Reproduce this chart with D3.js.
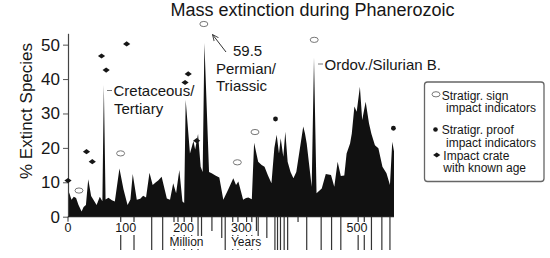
<!DOCTYPE html>
<html>
<head>
<meta charset="utf-8">
<script src="https://cdn.jsdelivr.net/npm/d3@7"></script>
<style>
  html, body { margin: 0; padding: 0; background: #fff; }
  svg { display: block; font-family: "Liberation Sans", Arial, sans-serif; }
</style>
</head>
<body>
<svg id="chart" width="550" height="258"></svg>
<script>
// ---------- data (ages in million years before present, % extinct species) ----------
const ages = [0, 3, 6, 10, 14, 18, 23.5, 27, 31, 35, 40, 44, 49.5, 55, 59.5, 62, 65, 70, 76, 81,
  89, 96, 103, 108, 112, 119, 125, 130, 135, 141, 146.5, 152, 156, 162, 171, 176.5, 182, 187, 192.6, 198,
  201, 203.6, 211, 217, 220, 225, 229.5, 233, 236, 244, 248.6, 255, 261.8, 268.7, 277, 286, 290.7, 294.7, 303, 308,
  312, 318, 322, 329, 335, 340, 346, 352, 357, 361, 365, 368, 372.5, 376, 380, 385, 390, 395, 407, 410,
  413, 421.6, 425.6, 430, 439, 446, 455, 460.7, 466.5, 472, 478, 482, 488, 491, 495.5, 499.5, 505, 509, 515, 520.8,
  525, 531, 537, 544, 551, 557, 561, 564];
const extinctPct = [7.8, 6.5, 4.9, 5.8, 5.4, 3.5, 1.5, 2.8, 3.4, 10.9, 6, 4.9, 3.4, 5.8, 4.5, 38.3, 5, 5.5, 4.8, 4.4,
  14, 8, 3.4, 5, 12.4, 4.9, 5.2, 6.1, 5.6, 12.8, 9.2, 10, 10.5, 11.6, 5.3, 4.9, 9.7, 6.8, 13.6, 4.4,
  4, 33.9, 18.4, 22, 19.5, 24, 14.5, 13, 50.5, 13, 12.6, 12, 11.4, 4.9, 7.8, 11.2, 9.2, 10.2, 4.9, 5.4,
  5.6, 5.1, 21.5, 16, 15, 14.5, 12, 9.7, 20, 23.8, 18.4, 22.8, 17.4, 24.7, 16, 13, 11.2, 13, 26.2, 24.2,
  21.3, 8.7, 46.3, 6.8, 8.2, 12.4, 12.1, 8.7, 16, 11.8, 12, 18.4, 21.3, 24.2, 32, 30.5, 37.8, 28.1, 33.4, 27.1,
  24, 20.8, 19.9, 14.5, 12.6, 9.2, 21.8, 19];

// stratigraphic sign of impact indicators (open ellipses)
const signAges = [19, 91, 235, 293, 323.5, 426];
const signPct  = [7.6, 18.4, 56, 15.8, 24.6, 51.4];
// stratigraphic proof of impact indicators (dots)
const proofAges = [359, 563];
const proofPct  = [28.4, 25.7];
// impact craters with known age (diamonds)
const craterAges = [0, 32, 42, 58, 66, 101.5, 202.5, 208, 222.6];
const craterPct  = [10.5, 18.9, 16, 46.7, 42.6, 50.2, 39, 41.5, 22.1];

// time boundary marks below the axis and their length class
const boundaryAges = [91.2, 114.2, 144.8, 163.8, 183.4, 190.3, 201, 214, 225, 231, 249, 266, 272, 285, 294, 309, 318,
  326, 329, 344, 358, 362.5, 367.6, 374, 380, 398, 413, 438, 456, 472, 502, 512.6, 525, 543, 557];
const boundaryClass = ["L","L","L","L","L","S","L","L","L","M","S","M","L","L","L","L","L",
  "S","L","M","L","L","L","L","L","XS","L","L","L","L","L","L","L","L","L"];

const yTicks = [0, 10, 20, 30, 40, 50];
const xTickLabels = [0, 100, 200, 300, 500];

const title = "Mass extinction during Phanerozoic";
const yTitle = "% Extinct Species";

// ---------- drawing ----------
const svg = d3.select("#chart");
const ink = "#161616";

const x = d3.scaleLinear().domain([0, 500]).range([68, 357]);
const y = d3.scaleLinear().domain([0, 53.3]).range([216.7, 33.3]);

const series = ages.map((a, i) => ({ age: a, v: extinctPct[i] }));

// boundary lines (drawn first, labels mask them)
const lenMap = { L: 250, M: 238, S: 231, XS: 222 };
svg.append("g").selectAll("line")
  .data(boundaryAges.map((a, i) => ({ a, c: boundaryClass[i] })))
  .join("line")
  .attr("x1", d => x(d.a)).attr("x2", d => x(d.a))
  .attr("y1", y(0)).attr("y2", d => lenMap[d.c])
  .attr("stroke", "#333").attr("stroke-width", 1.2);

// area
const area = d3.area()
  .x(d => x(d.age))
  .y0(y(0))
  .y1(d => y(d.v));
svg.append("path").datum(series)
  .attr("d", area)
  .attr("fill", "#111");

// y axis
const yAxis = svg.append("g")
  .attr("transform", `translate(${x(0)},0)`)
  .call(d3.axisLeft(y).tickValues(yTicks).tickSize(5).tickSizeOuter(0).tickPadding(3));
yAxis.selectAll("path").attr("stroke", "#444").attr("stroke-width", 1.2);
yAxis.selectAll("line").attr("stroke", "#555");
yAxis.selectAll("text").attr("font-size", 17).attr("fill", ink)
  .attr("font-family", "Liberation Sans, Arial, sans-serif");

// x axis baseline
svg.append("line").attr("x1", x(0)).attr("x2", x(564))
  .attr("y1", y(0)).attr("y2", y(0)).attr("stroke", "#222").attr("stroke-width", 1.2);
svg.append("line").attr("x1", x(0)).attr("x2", x(0))
  .attr("y1", y(0)).attr("y2", y(0) + 5).attr("stroke", "#333");

// x tick labels with white backgrounds (mask the boundary lines)
function maskedLabel(txt, cx, baseline, size) {
  const g = svg.append("g");
  const t = g.append("text").attr("x", cx).attr("y", baseline)
    .attr("text-anchor", "middle").attr("font-size", size).attr("fill", ink).text(txt);
  const bb = t.node().getBBox();
  g.insert("rect", "text").attr("x", bb.x - 1).attr("y", bb.y + 1)
    .attr("width", bb.width + 2).attr("height", bb.height - 1).attr("fill", "#fff");
}
xTickLabels.forEach(v => maskedLabel(String(v), x(v), 232, 12.5));
maskedLabel("Million", x(205), 246, 12);
maskedLabel("Years", x(308), 246, 12);

// markers
svg.append("g").selectAll("ellipse")
  .data(signAges.map((a, i) => ({ a, v: signPct[i] })))
  .join("ellipse")
  .attr("cx", d => x(d.a)).attr("cy", d => y(d.v))
  .attr("rx", 4).attr("ry", 2.6)
  .attr("fill", "#fff").attr("stroke", "#777").attr("stroke-width", 1);

svg.append("g").selectAll("circle")
  .data(proofAges.map((a, i) => ({ a, v: proofPct[i] })))
  .join("circle")
  .attr("cx", d => x(d.a)).attr("cy", d => y(d.v)).attr("r", 2.4).attr("fill", ink);

const diamond = (cx, cy) => `M${cx - 3.6},${cy}L${cx},${cy - 2.6}L${cx + 3.6},${cy}L${cx},${cy + 2.6}Z`;
svg.append("g").selectAll("path")
  .data(craterAges.map((a, i) => ({ a, v: craterPct[i] })))
  .join("path")
  .attr("d", d => diamond(x(d.a), y(d.v))).attr("fill", ink);

// title
svg.append("text").attr("x", 312.5).attr("y", 16).attr("text-anchor", "middle")
  .attr("font-size", 18).attr("fill", ink).text(title);

// y title
svg.append("text").attr("transform", "translate(32,111) rotate(-90)")
  .attr("text-anchor", "middle").attr("font-size", 17).attr("fill", ink).text(yTitle);

// annotations
const ann = svg.append("g").attr("font-size", 15).attr("fill", ink);
ann.append("line").attr("x1", 107).attr("x2", 112).attr("y1", 90.5).attr("y2", 90.5).attr("stroke", "#777");
ann.append("text").attr("x", 113.5).attr("y", 96).text("Cretaceous/");
ann.append("text").attr("x", 114).attr("y", 113.5).text("Tertiary");

ann.append("text").attr("x", 233).attr("y", 56).text("59.5");
ann.append("text").attr("x", 216).attr("y", 73.5).text("Permian/");
ann.append("text").attr("x", 216).attr("y", 91).text("Triassic");
// arrow
svg.append("defs").append("marker").attr("id", "ah")
  .attr("viewBox", "0 0 10 10").attr("refX", 9).attr("refY", 5)
  .attr("markerWidth", 7).attr("markerHeight", 7).attr("orient", "auto")
  .append("path").attr("d", "M0,1L9,5L0,9").attr("fill", "none").attr("stroke", "#333").attr("stroke-width", 1.2);
svg.append("line").attr("x1", 226).attr("y1", 52).attr("x2", 212.5).attr("y2", 34.5)
  .attr("stroke", "#333").attr("stroke-width", 1).attr("marker-end", "url(#ah)");

ann.append("line").attr("x1", 318).attr("x2", 323).attr("y1", 64).attr("y2", 64).attr("stroke", "#777");
ann.append("text").attr("x", 324.5).attr("y", 70).text("Ordov./Silurian B.");

// legend
const lg = svg.append("g");
lg.append("rect").attr("x", 424.5).attr("y", 82).attr("width", 119.5).attr("height", 99.5)
  .attr("rx", 3).attr("fill", "#fff").attr("stroke", "#666").attr("stroke-width", 1.3);
lg.append("ellipse").attr("cx", 436).attr("cy", 94.3).attr("rx", 4).attr("ry", 2.6)
  .attr("fill", "#fff").attr("stroke", "#777");
lg.append("circle").attr("cx", 435.5).attr("cy", 129.5).attr("r", 2.3).attr("fill", ink);
lg.append("path").attr("d", diamond(436.7, 155)).attr("fill", ink);
const lt = lg.append("g").attr("font-size", 12).attr("fill", ink);
lt.append("text").attr("x", 441.7).attr("y", 99.5).text("Stratigr. sign");
lt.append("text").attr("x", 446).attr("y", 112).text("impact indicators");
lt.append("text").attr("x", 441.7).attr("y", 134).text("Stratigr. proof");
lt.append("text").attr("x", 446).attr("y", 146.5).text("impact indicators");
lt.append("text").attr("x", 443.3).attr("y", 159.5).text("Impact crate");
lt.append("text").attr("x", 443.3).attr("y", 172).text("with known age");
</script>
</body>
</html>
